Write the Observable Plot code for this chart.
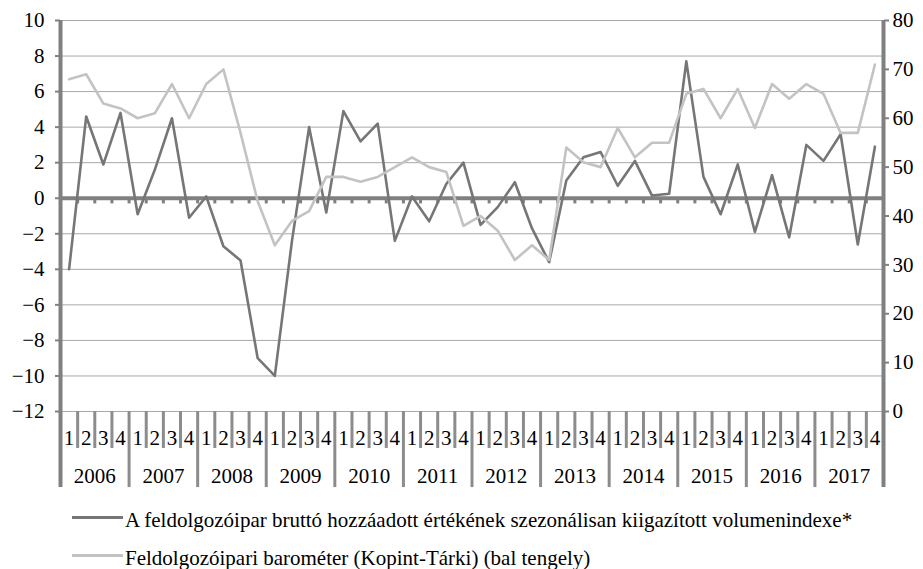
<!DOCTYPE html>
<html>
<head>
<meta charset="utf-8">
<script src="https://cdn.jsdelivr.net/npm/d3@7"></script>
<script src="https://cdn.jsdelivr.net/npm/@observablehq/plot@0.6"></script>
<style>
  html, body { margin: 0; padding: 0; background: #fff; }
  body { font-family: "Liberation Serif", "Times New Roman", serif; color: #000; }
  #wrap { position: relative; width: 923px; height: 569px; }
  .leg { position: absolute; left: 72px; height: 24px; display: flex; align-items: center; font-size: 21px; white-space: nowrap; }
  .leg .sw { width: 51px; height: 0; border-top-style: solid; margin-right: 2px; }
  .leg span { position: relative; top: 3px; }
  svg text { font-family: "Liberation Serif", "Times New Roman", serif; }
</style>
</head>
<body>
<div id="wrap">
  <div id="chart"></div>
  <div class="leg" style="top:505px"><div class="sw" style="border-top-width:3px;border-top-color:#767676"></div><span id="l1"></span></div>
  <div class="leg" style="top:543px"><div class="sw" style="border-top-width:3px;border-top-color:#c3c3c3"></div><span id="l2"></span></div>
</div>
<script>
// ---- data ----
const years = ["2006","2007","2008","2009","2010","2011","2012","2013","2014","2015","2016","2017"];
const quarterLabels = ["1","2","3","4"];
// A feldolgozóipar bruttó hozzáadott értékének szezonálisan kiigazított volumenindexe* (left axis)
const volumeIndex = [
  -4.0, 4.6, 1.9, 4.8,
  -0.9, 1.6, 4.5, -1.1,
  0.1, -2.7, -3.5, -9.0,
  -10.0, -2.4, 4.0, -0.8,
  4.9, 3.2, 4.2, -2.4,
  0.1, -1.3, 0.8, 2.0,
  -1.5, -0.5, 0.9, -1.7,
  -3.6, 1.0, 2.3, 2.6,
  0.7, 2.1, 0.15, 0.25,
  7.7, 1.2, -0.9, 1.9,
  -1.9, 1.3, -2.2, 3.0,
  2.1, 3.6, -2.6, 2.9
];
// Feldolgozóipari barométer (Kopint-Tárki) (right axis scale 0–80)
const barometer = [
  68, 69, 63, 62,
  60, 61, 67, 60,
  67, 70, 57, 43,
  34, 39, 41, 48,
  48, 47, 48, 50,
  52, 50, 49, 38,
  40, 37, 31, 34,
  31, 54, 51, 50,
  58, 52, 55, 55,
  65, 66, 60, 66,
  58, 67, 64, 67,
  65, 57, 57, 71
];
const leftTicks = [-12, -10, -8, -6, -4, -2, 0, 2, 4, 6, 8, 10];
const rightTicks = [0, 10, 20, 30, 40, 50, 60, 70, 80];
const legendLabels = [
  "A feldolgozóipar bruttó hozzáadott értékének szezonálisan kiigazított volumenindexe*",
  "Feldolgozóipari barométer (Kopint-Tárki) (bal tengely)"
];

// ---- helpers ----
const L0 = -12, L1 = 10, R0 = 0, R1 = 80;
const toLeft = v => L0 + (v - R0) / (R1 - R0) * (L1 - L0);
const fromLeft = v => R0 + (v - L0) / (L1 - L0) * (R1 - R0);
const nQ = years.length * 4;

const qData = d3.range(nQ).map(i => ({i, q: quarterLabels[i % 4]}));
const yData = years.map((y, j) => ({j, y}));
const volData = volumeIndex.map((v, i) => ({i, v}));
const barData = barometer.map((v, i) => ({i, v}));

const axisGray = "#808080";
const font = "'Liberation Serif', 'Times New Roman', serif";
const fs = 21;

const chart = Plot.plot({
  width: 923,
  height: 500,
  marginLeft: 60,
  marginRight: 40,
  marginTop: 20,
  marginBottom: 89,
  style: { fontFamily: font, fontSize: fs + "px", color: "#000", background: "#fff", overflow: "visible" },
  x: { domain: [0, nQ], axis: null },
  y: { domain: [L0, L1], axis: null },
  marks: [
    // grid
    Plot.ruleY(leftTicks.filter(d => d !== 0), { stroke: "#a8a8a8", strokeWidth: 1 }),
    // category separators
    Plot.ruleX(d3.range(1, nQ).filter(k => k % 4 !== 0), { y1: L0, y2: L0 - 2.08, stroke: "#8c8c8c", strokeWidth: 3 }),
    Plot.ruleX(d3.range(4, nQ, 4), { y1: L0, y2: L0 - 4.28, stroke: "#8c8c8c", strokeWidth: 3 }),
    // zero line and its ticks
    Plot.ruleX(d3.range(1, nQ), { y1: 0, y2: -0.32, stroke: axisGray, strokeWidth: 3 }),
    Plot.ruleY([0], { stroke: axisGray, strokeWidth: 4 }),
    // axis lines
    Plot.ruleX([0, nQ], { y1: L1, y2: L0 - 4.28, stroke: axisGray, strokeWidth: 4 }),
    // left axis
    Plot.axisY({ ticks: leftTicks, anchor: "left", tickSize: 5, tickPadding: 11, stroke: axisGray, strokeWidth: 2, fill: "#000", fontSize: fs, label: null }),
    // right axis (barometer scale)
    Plot.axisY({ ticks: rightTicks.map(toLeft), anchor: "right", tickFormat: d => String(Math.round(fromLeft(d))), tickSize: 5, tickPadding: 4, stroke: axisGray, strokeWidth: 2, fill: "#000", fontSize: fs, label: null }),
    // category labels
    Plot.text(qData, { x: d => d.i + 0.5, y: L0, dy: 27, text: "q", fontSize: fs, fill: "#000" }),
    Plot.text(yData, { x: d => d.j * 4 + 2, y: L0, dy: 65, text: "y", fontSize: fs, fill: "#000" }),
    // series
    Plot.line(volData, { x: d => d.i + 0.5, y: "v", stroke: "#767676", strokeWidth: 2.6 }),
    Plot.line(barData, { x: d => d.i + 0.5, y: d => toLeft(d.v), stroke: "#c3c3c3", strokeWidth: 2.6 })
  ]
});
document.getElementById("chart").appendChild(chart);
document.getElementById("l1").textContent = legendLabels[0];
document.getElementById("l2").textContent = legendLabels[1];
</script>
</body>
</html>
